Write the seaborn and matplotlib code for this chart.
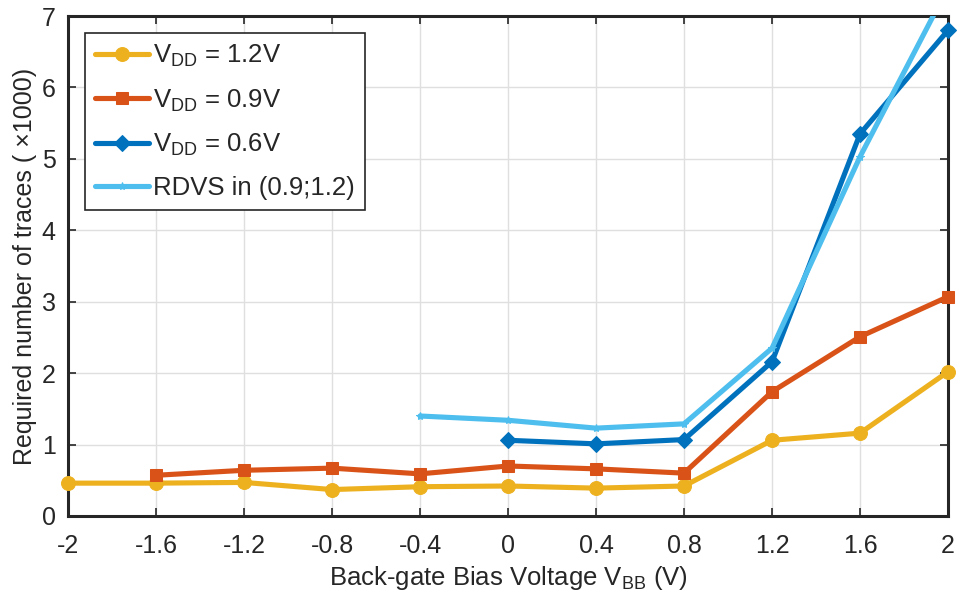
import numpy as np
import pandas as pd
import matplotlib
matplotlib.use("Agg")
import matplotlib.pyplot as plt
import seaborn as sns

# Back-gate bias sweep (V) and required traces (x1000)
vbb_12 = [-2, -1.6, -1.2, -0.8, -0.4, 0, 0.4, 0.8, 1.2, 1.6, 2]
traces_12 = [0.46, 0.46, 0.47, 0.37, 0.41, 0.42, 0.39, 0.42, 1.06, 1.16, 2.02]

vbb_09 = [-1.6, -1.2, -0.8, -0.4, 0, 0.4, 0.8, 1.2, 1.6, 2]
traces_09 = [0.57, 0.64, 0.67, 0.59, 0.70, 0.66, 0.60, 1.74, 2.51, 3.07]

vbb_06 = [0, 0.4, 0.8, 1.2, 1.6, 2]
traces_06 = [1.06, 1.01, 1.07, 2.16, 5.35, 6.80]

vbb_rdvs = [-0.4, 0, 0.4, 0.8, 1.2, 1.6, 2]
traces_rdvs = [1.40, 1.34, 1.23, 1.29, 2.35, 5.03, 7.40]

series_labels = [r"V$_{\mathrm{DD}}$ = 1.2V", r"V$_{\mathrm{DD}}$ = 0.9V",
                 r"V$_{\mathrm{DD}}$ = 0.6V", "RDVS in (0.9;1.2)"]
x_ticks = [-2, -1.6, -1.2, -0.8, -0.4, 0, 0.4, 0.8, 1.2, 1.6, 2]
x_tick_labels = ["-2", "-1.6", "-1.2", "-0.8", "-0.4", "0", "0.4", "0.8", "1.2", "1.6", "2"]
y_ticks = [0, 1, 2, 3, 4, 5, 6, 7]

sns.set_theme(style="whitegrid")
plt.rcParams["font.family"] = ["Liberation Sans", "DejaVu Sans"]
plt.rcParams["mathtext.fontset"] = "custom"
plt.rcParams["mathtext.rm"] = "Liberation Sans"
plt.rcParams["mathtext.it"] = "Liberation Sans:italic"
plt.rcParams["axes.unicode_minus"] = False

fig = plt.figure(figsize=(9.58, 6.04), dpi=100)
ax = fig.add_axes([0.071, 0.1457, 0.9186, 0.8278])

styles = [
    (vbb_12, traces_12, "#EDB120", "o", 10, False),
    (vbb_09, traces_09, "#D95319", "s", 9, False),
    (vbb_06, traces_06, "#0072BD", "D", 8.5, False),
    (vbb_rdvs, traces_rdvs, "#4DBEEE", "*", 6, True),
]
for (xs, ys, col, mk, ms, clip), lab in zip(styles, series_labels):
    df = pd.DataFrame({"vbb": xs, "traces": ys})
    sns.lineplot(data=df, x="vbb", y="traces", ax=ax, color=col, marker=mk,
                 markersize=ms, markeredgecolor=col, markerfacecolor=col,
                 linewidth=3.7, label=lab, clip_on=clip, zorder=3)

ax.set_xlim(-2, 2)
ax.set_ylim(0, 7)
ax.set_xticks(x_ticks)
ax.set_xticklabels(x_tick_labels)
ax.set_yticks(y_ticks)
ax.tick_params(axis="both", which="both", direction="in", length=6, width=1.2,
               colors="#262626", labelsize=18, labelcolor="#262626",
               top=True, right=True, bottom=True, left=True, pad=9)
ax.tick_params(axis="x", pad=13)
ax.grid(True, color="#DFDFDF", linewidth=1.0)
ax.set_axisbelow(True)
for sp in ax.spines.values():
    sp.set_visible(True)
    sp.set_color("#262626")
    sp.set_linewidth(2.2)

ax.set_xlabel(r"Back-gate Bias Voltage V$_{\mathrm{BB}}$ (V)", fontsize=18.5,
              color="#262626", labelpad=4)
ax.set_ylabel("Required number of traces ( \u00d71000)", fontsize=18,
              color="#262626", labelpad=3)

leg = ax.legend(loc="upper left", bbox_to_anchor=(0.019, 0.966), fontsize=18.5,
                frameon=True, fancybox=False, edgecolor="#262626",
                framealpha=1.0, handlelength=2.1, handletextpad=0.15,
                labelspacing=0.7, borderpad=0.4, borderaxespad=0)
leg.get_frame().set_linewidth(1.2)

fig.savefig("out.png", dpi=100)
